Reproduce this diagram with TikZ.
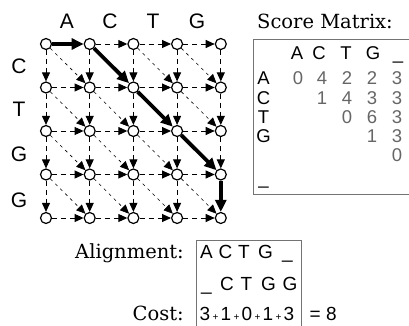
\documentclass[tikz,border=0pt]{standalone}
\usepackage{fontspec}
\setmainfont{DejaVu Serif}
\setsansfont{Liberation Sans}
\usetikzlibrary{arrows.meta}

\newcommand{\smallplus}{\kern2.3pt{\fontsize{10}{12}\selectfont+}\kern2.3pt}

\tikzset{
  vtx/.style={circle,draw,fill=white,line width=1.2pt,inner sep=0pt,minimum size=11pt},
  hvedge/.style={line width=0.9pt,dash pattern=on 5pt off 4pt,-{Triangle[length=9pt,width=8pt]}},
  dgedge/.style={line width=0.6pt,dash pattern=on 3pt off 4pt,-{Triangle[length=9pt,width=8pt]}},
  best/.style={line width=3.8pt,-{Triangle[length=12pt,width=11pt]}},
  seq/.style={font=\sffamily\fontsize{21}{22}\selectfont,anchor=base,inner sep=0pt},
  mat/.style={font=\sffamily\fontsize{18.5}{20}\selectfont,anchor=base,inner sep=0pt},
  num/.style={mat,text=black!60},
  aln/.style={font=\sffamily\fontsize{19}{20}\selectfont,anchor=base,inner sep=0pt},
  caption/.style={font=\fontsize{19.5}{21}\selectfont,inner sep=0pt},
  box/.style={draw=black!55,line width=0.8pt}
}

\begin{document}
\begin{tikzpicture}[x=1pt,y=-1pt]
\useasboundingbox (0,0) rectangle (409,326);
\clip (0,0) rectangle (409,326);

% edit graph
\foreach \c in {0,...,4}
  \foreach \r in {0,...,4}
    \node[vtx] (v\c\r) at ({46+43.7*\c},{44+43.5*\r}) {};

\foreach \r in {0,...,4} {
  \foreach \c [evaluate=\c as \n using int(\c+1)] in {0,...,3} {
    \ifnum\c\r=0 \else \draw[hvedge] (v\c\r) -- (v\n\r); \fi
  }
}
\foreach \c in {0,...,4} {
  \foreach \r [evaluate=\r as \n using int(\r+1)] in {0,...,3} {
    \ifnum\c\r=43 \else \draw[hvedge] (v\c\r) -- (v\c\n); \fi
  }
}
\foreach \c [evaluate=\c as \m using int(\c+1)] in {0,...,3} {
  \foreach \r [evaluate=\r as \n using int(\r+1)] in {0,...,3} {
    \ifnum\numexpr\c-\r\relax=1 \else \draw[dgedge] (v\c\r) -- (v\m\n); \fi
  }
}

% best path
\draw[best] (v00) -- (v10);
\draw[best] (v10) -- (v21);
\draw[best] (v21) -- (v32);
\draw[best] (v32) -- (v43);
\draw[best] (v43) -- (v44);

% sequences
\foreach \s/\x [count=\i] in {A/67,C/110,T/153,G/197}
  \node[seq] (top\i) at (\x,29) {\s};
\foreach \s/\y [count=\i] in {C/74,T/117,G/161,G/207}
  \node[seq] (side\i) at (19,\y) {\s};

% score matrix
\node[caption,anchor=base] (smtitle) at (325,28.5) {Score Matrix:};
\draw[box] (253,39.5) rectangle (420,194.5);
\foreach \s/\x [count=\i] in {A/297,C/319,T/346,G/373,\_/398}
  \node[mat] (colh\i) at (\x,59.5) {\s};
\foreach \s/\y [count=\i] in {A/85,C/104,T/123,G/142,\_/184}
  \node[mat] (rowh\i) at (263.5,\y) {\s};
\foreach \v/\x/\y [count=\k] in {0/298/85,4/322/85,2/347/85,2/372/85,3/397/85,
    1/322/104,4/347/104,3/372/104,3/397/104,
    0/347/123,6/372/123,3/397/123,
    1/372/142,3/397/142,
    0/397/161}
  \node[num] (s\k) at (\x,\y) {\v};

% alignment
\node[caption,anchor=base east] (alnlbl) at (184,258) {Alignment:};
\node[caption,anchor=base east] (costlbl) at (184,320) {Cost:};
\draw[box] (196.5,240) rectangle (301,340);
\foreach \s/\x [count=\i] in {A/206.5,C/225.5,T/244,G/265.5,\_/287.5}
  \node[aln] (up\i) at (\x,258) {\s};
\foreach \s/\x [count=\i] in {\_/206.5,C/227,T/246.5,G/268.5,G/290}
  \node[aln] (dn\i) at (\x,290) {\s};
\node[aln,anchor=base west] (cost) at (199.5,320) {3\smallplus1\smallplus0\smallplus1\smallplus3};
\node[aln,anchor=base west] (total) at (309.5,320) {= 8};
\end{tikzpicture}
\end{document}
